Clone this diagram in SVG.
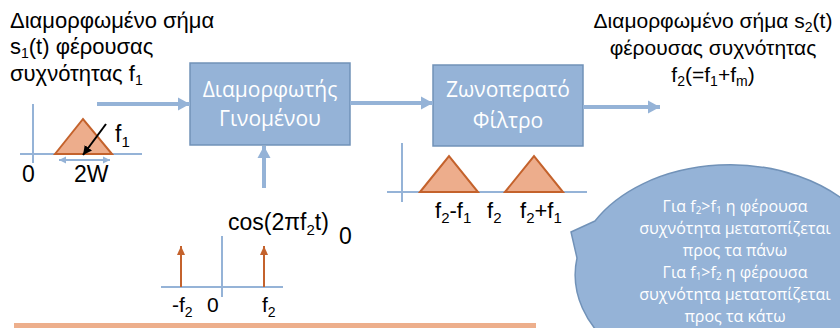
<svg xmlns="http://www.w3.org/2000/svg" width="840" height="328" viewBox="0 0 840 328">
<defs>
<style>
.t{font-family:"Liberation Sans",Arial,sans-serif;fill:#000}
.w{font-family:"Open Sans","Noto Sans",sans-serif;fill:#fff}
.box{fill:#95B3D7;stroke:#7192B8;stroke-width:1.5}
.ax{stroke:#95B3D7;stroke-width:2;fill:none}
.con{stroke:#95B3D7;stroke-width:4;fill:none}
.tri{fill:#EDAD8C;stroke:#C4622C;stroke-width:2}
.imp{stroke:#C4622C;stroke-width:2;fill:none}
</style>
<marker id="ah" markerUnits="userSpaceOnUse" markerWidth="14" markerHeight="14" refX="12" refY="7" orient="auto">
<path d="M0,0.5 L12,7 L0,13.5 Z" fill="#95B3D7"/>
</marker>
<marker id="ahs" markerUnits="userSpaceOnUse" markerWidth="8" markerHeight="8" refX="7" refY="4" orient="auto-start-reverse">
<path d="M0,0.5 L7,4 L0,7.5 Z" fill="#95B3D7"/>
</marker>
<marker id="ahk" markerUnits="userSpaceOnUse" markerWidth="10" markerHeight="10" refX="9" refY="5" orient="auto">
<path d="M0,0.5 L9,5 L0,9.5 Z" fill="#000"/>
</marker>
<marker id="aho" markerUnits="userSpaceOnUse" markerWidth="10" markerHeight="10" refX="9" refY="5" orient="auto">
<path d="M0,1 L9,5 L0,9 Z" fill="#C4622C"/>
</marker>
</defs>

<g id="input-label">
<text class="t" font-size="22" x="10" y="28">Διαμορφωμένο σήμα</text>
<text class="t" font-size="22" x="10" y="54">s<tspan font-size="14" dy="4">1</tspan><tspan dy="-4">(t) φέρουσας</tspan></text>
<text class="t" font-size="22" x="10" y="81">συχνότητας f<tspan font-size="14" dy="4">1</tspan></text>
</g>

<g id="input-spectrum">
<line class="ax" x1="33" y1="104" x2="33" y2="163"/>
<line class="ax" x1="20" y1="154" x2="142" y2="154"/>
<polygon class="tri" points="55,154 83,119 112,154"/>
<line x1="106" y1="124" x2="83" y2="155" stroke="#000" stroke-width="2" marker-end="url(#ahk)"/>
<line x1="59" y1="160" x2="110" y2="160" stroke="#95B3D7" stroke-width="2" marker-start="url(#ahs)" marker-end="url(#ahs)"/>
<text class="t" font-size="23" x="115" y="142">f<tspan font-size="15" dy="5">1</tspan></text>
<text class="t" font-size="23" x="22" y="182">0</text>
<text class="t" font-size="23" x="74" y="182">2W</text>
</g>

<g id="modulator">
<rect class="box" x="190" y="63" width="160" height="82"/>
<text class="w" font-size="21" x="270" y="97" text-anchor="middle">Διαμορφωτής</text>
<text class="w" font-size="21" x="270" y="126" text-anchor="middle">Γινομένου</text>
</g>

<g id="filter">
<rect class="box" x="433" y="65" width="150" height="81"/>
<text class="w" font-size="21" x="508" y="97" text-anchor="middle">Ζωνοπερατό</text>
<text class="w" font-size="21" x="508" y="128" text-anchor="middle">Φίλτρο</text>
</g>

<g id="output-label">
<text class="t" font-size="21" x="713" y="28" text-anchor="middle">Διαμορφωμένο σήμα s<tspan font-size="14" dy="4">2</tspan><tspan dy="-4">(t)</tspan></text>
<text class="t" font-size="21" x="713" y="55" text-anchor="middle">φέρουσας συχνότητας</text>
<text class="t" font-size="21" x="713" y="82" text-anchor="middle">f<tspan font-size="14" dy="4">2</tspan><tspan dy="-4">(=f</tspan><tspan font-size="14" dy="4">1</tspan><tspan dy="-4">+f</tspan><tspan font-size="14" dy="4">m</tspan><tspan dy="-4">)</tspan></text>
</g>

<g id="filter-spectrum">
<line class="ax" x1="402" y1="143" x2="402" y2="202"/>
<line class="ax" x1="387" y1="192" x2="587" y2="192"/>
<polygon class="tri" points="420,192 449,156 478,192"/>
<polygon class="tri" points="505,192 534,156 563,192"/>
<text class="t" font-size="22" x="435" y="218">f<tspan font-size="15" dy="5">2</tspan><tspan dy="-5">-f</tspan><tspan font-size="15" dy="5">1</tspan></text>
<text class="t" font-size="22" x="487" y="218">f<tspan font-size="15" dy="5">2</tspan></text>
<text class="t" font-size="22" x="520" y="218">f<tspan font-size="15" dy="5">2</tspan><tspan dy="-5">+f</tspan><tspan font-size="15" dy="5">1</tspan></text>
</g>

<g id="carrier">
<text class="t" font-size="23" x="228" y="230">cos(2πf<tspan font-size="15" dy="5">2</tspan><tspan dy="-5">t)</tspan></text>
<text class="t" font-size="23" x="339" y="244">0</text>
<line class="ax" x1="161" y1="287" x2="283" y2="287"/>
<line class="ax" x1="222" y1="236" x2="222" y2="297"/>
<line class="imp" x1="181" y1="287" x2="181" y2="246" marker-end="url(#aho)"/>
<line class="imp" x1="264" y1="287" x2="264" y2="246" marker-end="url(#aho)"/>
<text class="t" font-size="21" x="172" y="312">-f<tspan font-size="14" dy="5">2</tspan></text>
<text class="t" font-size="21" x="207" y="312">0</text>
<text class="t" font-size="21" x="262" y="312">f<tspan font-size="14" dy="5">2</tspan></text>
</g>

<g id="callout">
<path d="M595,221 L571,232 L577,258 A155,110 0 1 0 595,221 Z" fill="#95B3D7" stroke="#7192B8" stroke-width="1.5"/>
<g class="w" font-size="16" text-anchor="middle">
<text x="735" y="212">Για f<tspan font-size="10" dy="2">2</tspan><tspan dy="-2">&gt;f</tspan><tspan font-size="10" dy="2">1</tspan><tspan dy="-2"> η φέρουσα</tspan></text>
<text x="735" y="234">συχνότητα μετατοπίζεται</text>
<text x="735" y="256">προς τα πάνω</text>
<text x="735" y="278">Για f<tspan font-size="10" dy="2">1</tspan><tspan dy="-2">&gt;f</tspan><tspan font-size="10" dy="2">2</tspan><tspan dy="-2"> η φέρουσα</tspan></text>
<text x="735" y="300">συχνότητα μετατοπίζεται</text>
<text x="735" y="322">προς τα κάτω</text>
</g>
</g>

<g id="bottom-bar">
<rect x="14" y="323" width="522" height="5" fill="#EDAF8C"/>
</g>

<g id="connectors">
<line class="con" x1="97" y1="104" x2="190" y2="104" marker-end="url(#ah)"/>
<line class="con" x1="350" y1="103" x2="433" y2="103" marker-end="url(#ah)"/>
<line class="con" x1="583" y1="107" x2="660" y2="107" marker-end="url(#ah)"/>
<line class="con" x1="264" y1="188" x2="264" y2="146" marker-end="url(#ah)"/>
</g>
</svg>
